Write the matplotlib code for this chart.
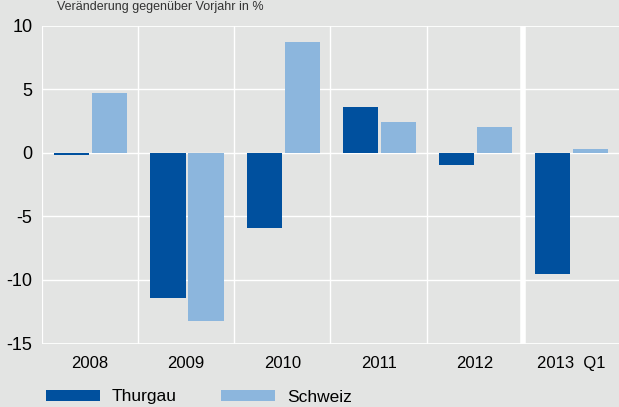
import numpy as np
import matplotlib
matplotlib.use('agg')
import matplotlib.pyplot as plt
from matplotlib.patches import Patch

plt.rcParams['font.family'] = ['Liberation Sans', 'DejaVu Sans']

years = ['2008', '2009', '2010', '2011', '2012', '2013  Q1']
thurgau = [-0.2, -11.4, -5.9, 3.6, -0.95, -9.5]
schweiz = [4.7, -13.25, 8.7, 2.4, 2.0, 0.3]
yticks = [10, 5, 0, -5, -10, -15]
title = 'Veränderung gegenüber Vorjahr in %'

bg = '#e3e4e3'
c_tg = '#00509e'
c_ch = '#8cb6dd'
fs = 12

fig = plt.figure(figsize=(6.19, 4.07), dpi=100, facecolor=bg)
ax = fig.add_axes([42/619, 1-343.5/407, 1-42/619, (343.5-25.5)/407])
ax.set_facecolor(bg)

x = np.arange(len(years))
w = 0.365
ax.bar(x - 0.19, thurgau, width=w, color=c_tg, linewidth=0, zorder=3, label='Thurgau')
ax.bar(x + 0.205, schweiz, width=w, color=c_ch, linewidth=0, zorder=3, label='Schweiz')

# white grid, heavier frame lines
for v in yticks:
    lw = 2.0 if v in (10, -15) else 1.0
    ax.axhline(v, color='white', lw=lw, zorder=1)
for i in range(len(years)):
    lw = 4.0 if i == len(years) - 1 else 1.0
    if i == 0:
        lw = 1.6
    ax.axvline(i - 0.5, color='white', lw=lw, zorder=1)

ax.set_xlim(-0.5, len(years) - 0.5)
ax.set_ylim(-15, 10)
ax.set_yticks(yticks)
ax.set_yticklabels([str(v) for v in yticks], fontsize=fs + 1)
ax.set_xticks(x)
ax.set_xticklabels(years, fontsize=fs)
ax.tick_params(axis='y', length=0, pad=7)
ax.tick_params(axis='x', length=0, pad=9)
for s in ax.spines.values():
    s.set_visible(False)

fig.text(57/619, 1 - 1/407, title, fontsize=9, color='#333333', va='top', ha='left')

handles = [Patch(facecolor=c_tg, edgecolor='none'), Patch(facecolor=c_ch, edgecolor='none')]
fig.legend(handles, ['Thurgau', 'Schweiz'], loc='center left', bbox_to_anchor=(46/619, 1 - 397/407),
           ncol=2, frameon=False, fontsize=fs + 0.5, handlelength=3.1, handleheight=0.6,
           handletextpad=0.66, columnspacing=2.6, borderaxespad=0, borderpad=0)

plt.savefig('out.png', dpi=100, facecolor=bg)
